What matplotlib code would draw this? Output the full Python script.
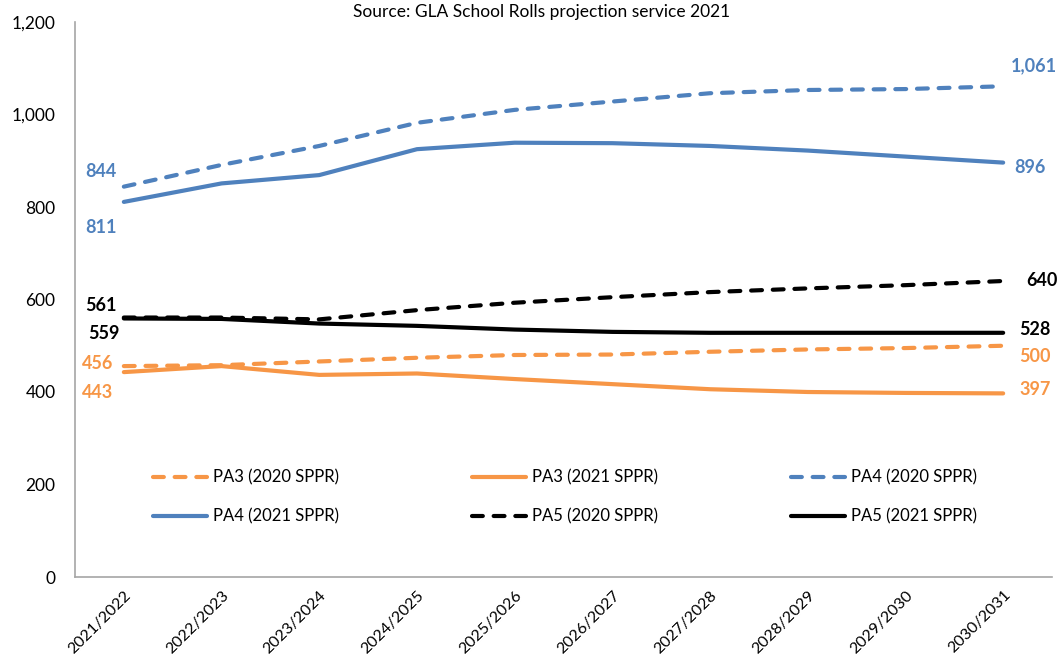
import matplotlib
matplotlib.use("Agg")
import matplotlib.pyplot as plt

plt.rcParams['font.family'] = ['Lato', 'DejaVu Sans']

years = ["2021/2022", "2022/2023", "2023/2024", "2024/2025", "2025/2026",
         "2026/2027", "2027/2028", "2028/2029", "2029/2030", "2030/2031"]
pa3_2020 = [456, 458, 466, 474, 480, 481, 487, 492, 495, 500]
pa3_2021 = [443, 456, 437, 440, 428, 417, 406, 400, 398, 397]
pa4_2020 = [844, 891, 932, 982, 1010, 1028, 1046, 1053, 1055, 1061]
pa4_2021 = [811, 851, 869, 925, 939, 938, 932, 922, 909, 896]
pa5_2020 = [561, 561, 557, 577, 593, 605, 616, 624, 631, 640]
pa5_2021 = [559, 558, 548, 543, 535, 530, 528, 528, 528, 528]

BLUE = "#4F81BD"
ORANGE = "#F79646"
BLACK = "#000000"

fig = plt.figure(figsize=(10.59, 6.57), dpi=100)
ax = fig.add_axes([75/1059, 1-577/657, (1052-75)/1059, (577-22)/657])

x = list(range(len(years)))
lw = 3.0
dash = (2.6, 2.6)
series = [
    ("PA3 (2020 SPPR)", pa3_2020, ORANGE, True),
    ("PA3 (2021 SPPR)", pa3_2021, ORANGE, False),
    ("PA4 (2020 SPPR)", pa4_2020, BLUE, True),
    ("PA4 (2021 SPPR)", pa4_2021, BLUE, False),
    ("PA5 (2020 SPPR)", pa5_2020, BLACK, True),
    ("PA5 (2021 SPPR)", pa5_2021, BLACK, False),
]
handles = []
for name, vals, col, dashed in series:
    if dashed:
        h, = ax.plot(x, vals, color=col, lw=lw, label=name, dashes=dash,
                     dash_capstyle='round', solid_joinstyle='round')
    else:
        h, = ax.plot(x, vals, color=col, lw=lw, label=name,
                     solid_capstyle='round', solid_joinstyle='round')
    handles.append(h)

# data labels (first and last point)
labels = [
    (pa4_2020, 0, BLUE, (-23, 15)),
    (pa4_2021, 0, BLUE, (-23, -26)),
    (pa5_2020, 0, BLACK, (-23, 12)),
    (pa5_2021, 0, BLACK, (-20, -15)),
    (pa3_2020, 0, ORANGE, (-26, 3)),
    (pa3_2021, 0, ORANGE, (-26, -20)),
    (pa4_2020, 9, BLUE, (31, 21)),
    (pa4_2021, 9, BLUE, (27, -5)),
    (pa5_2020, 9, BLACK, (39, 0)),
    (pa5_2021, 9, BLACK, (32, 3)),
    (pa3_2020, 9, ORANGE, (32, -11)),
    (pa3_2021, 9, ORANGE, (32, 4)),
]
for vals, i, col, off in labels:
    ax.annotate(f"{vals[i]:,}", (i, vals[i]), xytext=off, textcoords='offset pixels',
                ha='center', va='center', color=col, fontsize=13, fontweight='bold',
                annotation_clip=False)

ax.set_xlim(-0.5, len(years) - 0.5)
ax.set_ylim(0, 1200)
ax.set_yticks(range(0, 1201, 200))
ax.set_yticklabels([f"{v:,}" for v in range(0, 1201, 200)], fontsize=12.5)
ax.set_xticks(x)
ax.set_xticklabels(years, rotation=45, ha='right', rotation_mode='anchor', fontsize=11.5)
ax.tick_params(axis='both', length=0)
ax.tick_params(axis='y', pad=14)
ax.tick_params(axis='x', pad=8)
for s in ['top', 'right']:
    ax.spines[s].set_visible(False)
for s in ['left', 'bottom']:
    ax.spines[s].set_color('#A6A6A6')
    ax.spines[s].set_linewidth(1.2)

# legend reading row by row (matplotlib fills columns first)
order = [0, 3, 1, 4, 2, 5]
leg = ax.legend(handles=[handles[i] for i in order], ncol=3, loc='center',
                bbox_to_anchor=(565/1059, 1-497/657),
                bbox_transform=fig.transFigure, frameon=False, fontsize=12,
                handlelength=3.24, handletextpad=0.35, columnspacing=8.0, labelspacing=1.4)

fig.text(542/1059, 1-12/657, "Source: GLA School Rolls projection service 2021",
         ha='center', va='center', fontsize=12.5)

fig.savefig("out.png", dpi=100)
